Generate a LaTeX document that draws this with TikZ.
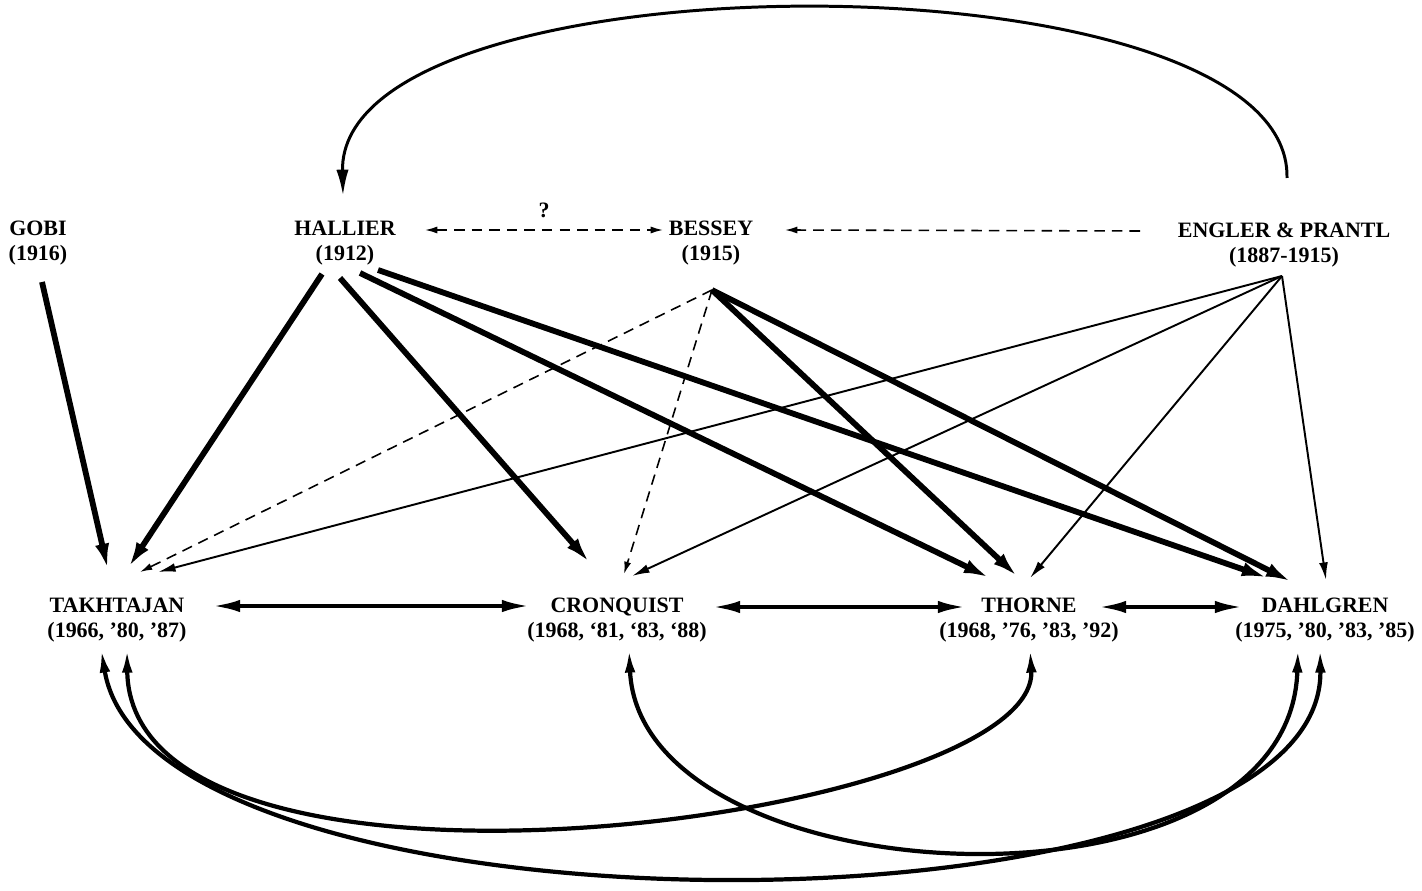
\documentclass[tikz,border=0pt]{standalone}
\usepackage{fontspec}
\setmainfont{Liberation Serif}
\usetikzlibrary{calc,arrows.meta}

\tikzset{
    taxon/.style={align=center, inner sep=0pt, font=\fontsize{12.5}{14}\selectfont\bfseries},
    heavy/.style={line width=3.3pt, -{Latex[length=15pt,width=8pt]}},
    light/.style={line width=1.1pt, -{Latex[length=10pt,width=5pt]}},
    dashy/.style={line width=0.9pt, dash pattern=on 6pt off 4pt, -{Latex[length=7pt,width=4pt]}},
    twoway/.style={line width=2.3pt, {Latex[length=16pt,width=7pt]}-{Latex[length=16pt,width=7pt]}},
    loopback/.style={line width=2.4pt, {Latex[length=14pt,width=6pt]}-{Latex[length=14pt,width=6pt]}}
}

\begin{document}
\begin{tikzpicture}[x=0.02cm, y=-0.02cm]
        \useasboundingbox (0,0) rectangle (1422,891);

        % Older systems
        \node[taxon] (gobi) at (38,243) {GOBI\\(1916)};
        \node[taxon] (hallier) at (345,243) {HALLIER\\(1912)};
        \node[taxon] (bessey) at (711,243) {BESSEY\\(1915)};
        \node[taxon] (engler) at (1284,245) {ENGLER \& PRANTL\\(1887-1915)};

        % Modern systems
        \node[taxon] (takht) at (117,620) {TAKHTAJAN\\(1966, '80, '87)};
        \node[taxon] (cronq) at (617,620) {CRONQUIST\\(1968, `81, `83, `88)};
        \node[taxon] (thorne) at (1029,620) {THORNE\\(1968, '76, '83, '92)};
        \node[taxon] (dahl) at (1325,620) {DAHLGREN\\(1975, '80, '83, '85)};

        % Top arc and dashed links
        \draw[line width=1.7pt, -{Latex[length=15pt,width=7pt]}] ($(engler)+(3,-67)$)
            .. controls ($(engler)+(8,-295)$) and ($(hallier)+(-7,-293)$) .. ($(hallier)+(-2,-47)$);
        \draw[dashy, {Latex[length=7pt,width=4pt]}-{Latex[length=7pt,width=4pt]}] ($(hallier)+(80,-13)$) -- node[above=3pt, font=\fontsize{12.5}{14}\selectfont\bfseries] (qmark) {?} ($(bessey)+(-48,-13)$);
        \draw[dashy] ($(engler)+(-144,-14)$) -- ($(bessey)+(74,-13)$);

        % Gobi and Hallier
        \draw[heavy] ($(gobi)+(4,39)$) -- ($(takht)+(-9,-50)$);
        \draw[heavy] ($(hallier)+(-23,31)$) -- ($(takht)+(11,-52)$);
        \draw[heavy] ($(hallier)+(-5,35)$) -- ($(cronq)+(-27,-57)$);
        \draw[heavy] ($(hallier)+(15,30)$) -- ($(thorne)+(-39,-42)$);
        \draw[heavy] ($(hallier)+(33,27)$) -- ($(dahl)+(-57,-42)$);

        % Bessey
        \draw[dashy] ($(bessey)+(1,47)$) -- ($(takht)+(23,-48)$);
        \draw[dashy] ($(bessey)+(1,47)$) -- ($(cronq)+(7,-46)$);
        \draw[heavy] ($(bessey)+(1,47)$) -- ($(thorne)+(-11,-43)$);
        \draw[heavy] ($(bessey)+(1,47)$) -- ($(dahl)+(-33,-38)$);

        % Engler & Prantl
        \draw[light] ($(engler)+(-2,31)$) -- ($(takht)+(41,-48)$);
        \draw[light] ($(engler)+(-2,31)$) -- ($(cronq)+(15,-44)$);
        \draw[light] ($(engler)+(-2,31)$) -- ($(thorne)+(1,-42)$);
        \draw[light] ($(engler)+(-2,31)$) -- ($(dahl)+(1,-40)$);

        % Links between modern systems
        \draw[twoway] ($(takht)+(95,-14)$) -- ($(cronq)+(-87,-14)$);
        \draw[twoway] ($(cronq)+(95,-13)$) -- ($(thorne)+(-63,-13)$);
        \draw[twoway] ($(thorne)+(69,-13)$) -- ($(dahl)+(-82,-13)$);

        % Curves underneath
        \draw[loopback] ($(takht)+(-16,28)$) .. controls ($(takht)+(33,330)$) and ($(dahl)+(0,330)$) .. ($(dahl)+(-5,28)$);
        \draw[loopback] ($(takht)+(10,28)$) .. controls ($(takht)+(13,320)$) and ($(thorne)+(11,200)$) .. ($(thorne)+(1,28)$);
        \draw[loopback] ($(cronq)+(12,28)$) .. controls ($(cronq)+(23,280)$) and ($(dahl)+(-35,310)$) .. ($(dahl)+(-27,28)$);
    \end{tikzpicture}
\end{document}
